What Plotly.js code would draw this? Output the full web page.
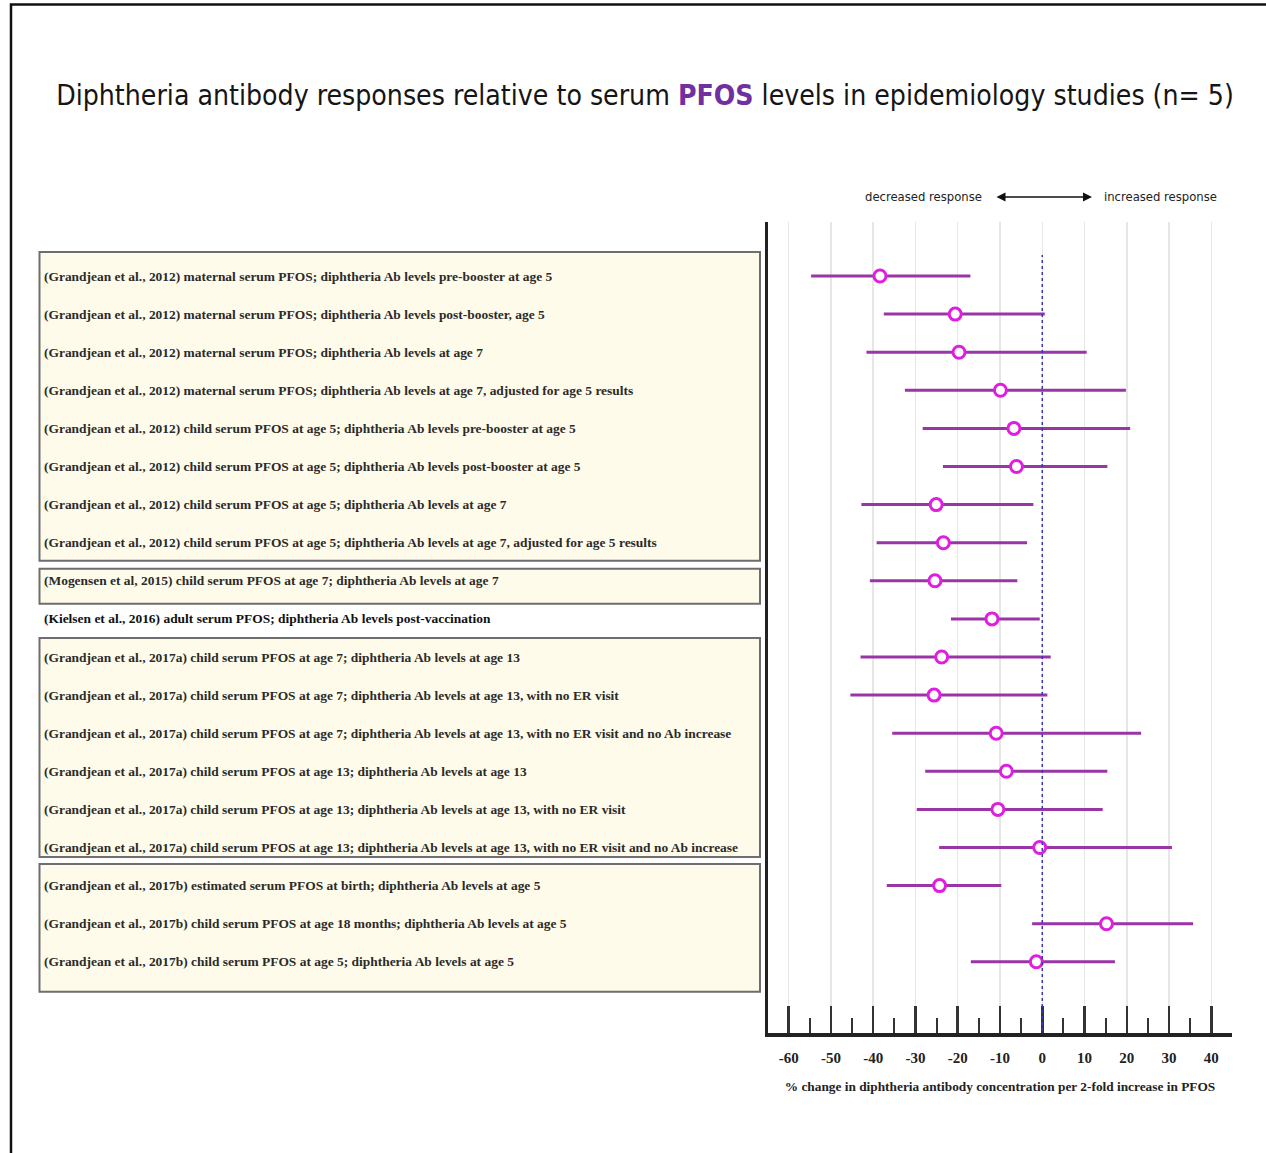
<!DOCTYPE html>
<html>
<head>
<meta charset="utf-8">
<script src="https://cdn.plot.ly/plotly-3.0.1.min.js"></script>
<style>
  html, body { margin: 0; padding: 0; background: #ffffff; }
  #chart { width: 1266px; height: 1153px; }
</style>
</head>
<body>
<div id="chart"></div>
<script>
// ---------------- DATA ----------------
const studyLabels = [
  "(Grandjean et al., 2012) maternal serum PFOS; diphtheria Ab levels pre-booster at age 5",
  "(Grandjean et al., 2012) maternal serum PFOS; diphtheria Ab levels post-booster, age 5",
  "(Grandjean et al., 2012) maternal serum PFOS; diphtheria Ab levels at age 7",
  "(Grandjean et al., 2012) maternal serum PFOS; diphtheria Ab levels at age 7, adjusted for age 5 results",
  "(Grandjean et al., 2012) child serum PFOS at age 5; diphtheria Ab levels pre-booster at age 5",
  "(Grandjean et al., 2012) child serum PFOS at age 5; diphtheria Ab levels post-booster at age 5",
  "(Grandjean et al., 2012) child serum PFOS at age 5; diphtheria Ab levels at age 7",
  "(Grandjean et al., 2012) child serum PFOS at age 5; diphtheria Ab levels at age 7, adjusted for age 5 results",
  "(Mogensen et al, 2015) child serum PFOS at age 7; diphtheria Ab levels at age 7",
  "(Kielsen et al., 2016) adult serum PFOS; diphtheria Ab levels post-vaccination",
  "(Grandjean et al., 2017a) child serum PFOS at age 7; diphtheria Ab levels at age 13",
  "(Grandjean et al., 2017a) child serum PFOS at age 7; diphtheria Ab levels at age 13, with no ER visit",
  "(Grandjean et al., 2017a) child serum PFOS at age 7; diphtheria Ab levels at age 13, with no ER visit and no Ab increase",
  "(Grandjean et al., 2017a) child serum PFOS at age 13; diphtheria Ab levels at age 13",
  "(Grandjean et al., 2017a) child serum PFOS at age 13; diphtheria Ab levels at age 13, with no ER visit",
  "(Grandjean et al., 2017a) child serum PFOS at age 13; diphtheria Ab levels at age 13, with no ER visit and no Ab increase",
  "(Grandjean et al., 2017b) estimated serum PFOS at birth; diphtheria Ab levels at age 5",
  "(Grandjean et al., 2017b) child serum PFOS at age 18 months; diphtheria Ab levels at age 5",
  "(Grandjean et al., 2017b) child serum PFOS at age 5; diphtheria Ab levels at age 5"
];
const pctChange = [-38.4, -20.6, -19.7, -9.9, -6.7, -6.1, -25.1, -23.4, -25.4, -11.9, -23.8, -25.6, -10.9, -8.5, -10.5, -0.6, -24.3, 15.2, -1.4];
const ciLower   = [-54.7, -37.5, -41.6, -32.5, -28.3, -23.5, -42.8, -39.2, -40.8, -21.6, -43.0, -45.4, -35.5, -27.7, -29.7, -24.4, -36.8, -2.4, -16.9];
const ciUpper   = [-17.0, 0.6, 10.5, 19.8, 20.8, 15.4, -2.1, -3.6, -5.9, -0.6, 2.0, 1.2, 23.4, 15.4, 14.3, 30.7, -9.7, 35.7, 17.2];
// study groups drawn inside boxes (first and last row index)
const groupFirst = [0, 8, 10, 16];
const groupLast  = [7, 8, 15, 18];
const xTickVals   = [-60, -50, -40, -30, -20, -10, 0, 10, 20, 30, 40];
const xTickLabels = ["-60", "-50", "-40", "-30", "-20", "-10", "0", "10", "20", "30", "40"];
const titleText = "Diphtheria antibody responses relative to serum PFOS levels in epidemiology studies (n= 5)";
const xTitleText = "% change in diphtheria antibody concentration per 2-fold increase in PFOS";
const leftHeader = "decreased response";
const rightHeader = "increased response";

// ---------------- FONT HELPERS ----------------
const ctx = document.createElement('canvas').getContext('2d');
function hasFont(name) {
  const t = 'abcdefghijklmnopqrstuvwxyzABCDEFG0123456789';
  ctx.font = '40px monospace';
  const a = ctx.measureText(t).width;
  ctx.font = '40px "' + name + '", monospace';
  const b = ctx.measureText(t).width;
  return Math.abs(a - b) > 0.5;
}
function fitSize(text, family, weight, target) {
  ctx.font = weight + ' 100px ' + family;
  const w = ctx.measureText(text).width;
  return 100 * target / w;
}
let sansNarrow = '"Liberation Sans", Arial, sans-serif';
for (const f of ['Liberation Sans Narrow', 'Arial Narrow', 'DejaVu Sans Condensed', 'Roboto Condensed']) {
  if (hasFont(f)) { sansNarrow = '"' + f + '", "Liberation Sans", sans-serif'; break; }
}
const serif = '"Liberation Serif", "Times New Roman", serif';

const titleSize = fitSize(titleText, sansNarrow, 'normal', 1168);
const labelSize = fitSize(studyLabels[0], serif, 'bold', 510);
const headerSize = fitSize(leftHeader, sansNarrow, 'normal', 117);
const xTitleSize = fitSize(xTitleText, serif, 'bold', 431);

// ---------------- GEOMETRY ----------------
const W = 1266, H = 1153;
const L = 768, R = 1232, T = 222, B = 1033;
const pw = R - L, ph = B - T;
const px2x = p => (p - L) / pw;
const py2y = p => (B - p) / ph;
const rowPitch = 38.1;

// ---------------- TRACES ----------------
const trace = {
  type: 'scatter',
  mode: 'markers',
  x: pctChange,
  y: studyLabels,
  error_x: {
    type: 'data',
    symmetric: false,
    array: ciUpper.map((u, i) => u - pctChange[i]),
    arrayminus: ciLower.map((l, i) => pctChange[i] - l),
    color: '#9a35a6',
    thickness: 3,
    width: 0
  },
  marker: {
    symbol: 'circle',
    size: 12,
    color: '#ffffff',
    line: { color: '#e01ee0', width: 3 }
  },
  hoverinfo: 'x+y',
  showlegend: false,
  cliponaxis: false
};

// ---------------- SHAPES ----------------
const shapes = [];
// study boxes
const boxTopPad = [24, 12, 19, 21.6];
const boxBotPad = [18, 23, 9.5, 30];
groupFirst.forEach((g, i) => {
  shapes.push({
    type: 'rect', xref: 'paper', yref: 'y', layer: 'below',
    x0: px2x(39.5), x1: px2x(760),
    y0: g - boxTopPad[i] / rowPitch, y1: groupLast[i] + boxBotPad[i] / rowPitch,
    fillcolor: '#fffbea',
    line: { color: '#6e6e6e', width: 2 }
  });
});
// null-effect reference line
shapes.push({
  type: 'line', xref: 'x', yref: 'paper', x0: 0, x1: 0,
  y0: py2y(1031), y1: py2y(255),
  line: { color: '#3a3aa8', width: 1.5, dash: 'dot' }
});
// page frame (left and top)
shapes.push({
  type: 'path', xref: 'paper', yref: 'paper',
  path: 'M ' + px2x(11) + ' ' + py2y(1153) + ' L ' + px2x(11) + ' ' + py2y(4.5) + ' L ' + px2x(1266) + ' ' + py2y(4.5),
  line: { color: '#111111', width: 2.5 }
});

// ---------------- ANNOTATIONS ----------------
const annotations = studyLabels.map((lab, i) => ({
  xref: 'paper', yref: 'y', x: px2x(42), y: lab,
  xanchor: 'left', yanchor: 'middle',
  text: lab, showarrow: false,
  font: { family: serif, size: labelSize, color: i === 9 ? '#111111' : '#2b2b2b', weight: 'bold' }
}));
annotations.push({
  xref: 'paper', yref: 'paper', x: px2x(984), y: py2y(197),
  xanchor: 'right', yanchor: 'middle', text: leftHeader, showarrow: false,
  font: { family: sansNarrow, size: headerSize, color: '#222222' }
});
annotations.push({
  xref: 'paper', yref: 'paper', x: px2x(1102), y: py2y(197),
  xanchor: 'left', yanchor: 'middle', text: rightHeader, showarrow: false,
  font: { family: sansNarrow, size: headerSize, color: '#222222' }
});
annotations.push({
  xref: 'paper', yref: 'paper', axref: 'paper', ayref: 'paper',
  x: px2x(1092), y: py2y(197), ax: px2x(995), ay: py2y(197),
  text: '', showarrow: true, arrowside: 'end+start',
  arrowhead: 2, arrowsize: 1.2, arrowwidth: 1.5, arrowcolor: '#111111',
  standoff: 0, startstandoff: 0
});

// ---------------- LAYOUT ----------------
const layout = {
  width: W, height: H,
  margin: { l: L, r: W - R, t: T, b: H - B, pad: 0 },
  paper_bgcolor: '#ffffff',
  plot_bgcolor: '#ffffff',
  title: {
    text: 'Diphtheria antibody responses relative to serum <b><span style="color:#7030a0">PFOS</span></b> levels in epidemiology studies (n= 5)',
    font: { family: sansNarrow, size: titleSize, color: '#151515' },
    x: 645 / W, xanchor: 'center', xref: 'container',
    y: 1 - 95 / H, yanchor: 'middle', yref: 'container'
  },
  xaxis: {
    range: [-64.9, 44.9],
    tickmode: 'array', tickvals: xTickVals, ticktext: xTickLabels,
    ticks: 'inside', ticklen: 27, tickwidth: 2.5, tickcolor: '#333333',
    minor: { dtick: 5, tick0: 0, ticks: 'inside', ticklen: 15, tickwidth: 2, tickcolor: '#333333', showgrid: false },
    showline: true, linecolor: '#222222', linewidth: 4,
    showgrid: true, gridcolor: '#e6e6e6', gridwidth: 1.5,
    zeroline: false,
    ticklabelstandoff: 8,
    tickfont: { family: serif, size: 15, color: '#222222', weight: 'bold' },
    title: { text: xTitleText, standoff: 18, font: { family: serif, size: xTitleSize, color: '#222222', weight: 'bold' } }
  },
  yaxis: {
    type: 'category',
    categoryorder: 'array', categoryarray: studyLabels,
    range: [(B - 276) / rowPitch, (T - 276) / rowPitch],
    showticklabels: false, ticks: '', showgrid: false, zeroline: false,
    showline: true, linecolor: '#222222', linewidth: 3
  },
  shapes: shapes,
  annotations: annotations,
  hovermode: 'closest'
};

Plotly.newPlot('chart', [trace], layout, { displayModeBar: false, staticPlot: true });
</script>
</body>
</html>
